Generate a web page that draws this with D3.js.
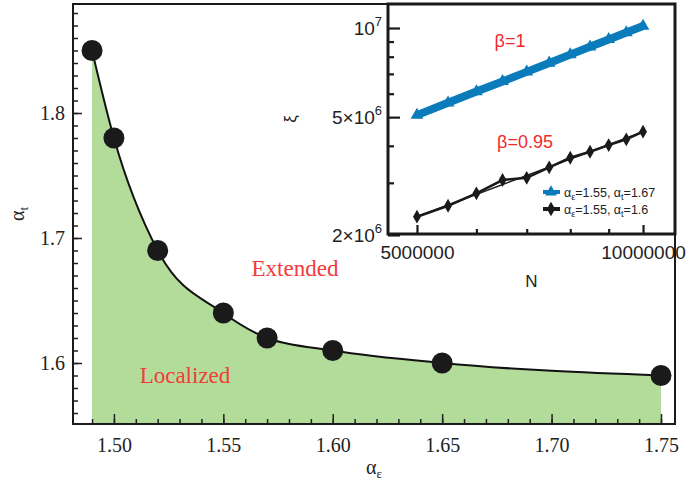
<!DOCTYPE html>
<html>
<head>
<meta charset="utf-8">
<script src="https://cdn.jsdelivr.net/npm/d3@7"></script>
<style>
  body { margin: 0; background: #fff; }
  svg { display: block; }
</style>
</head>
<body>
<div id="chart-area"></div>
<script>
// main panel data: phase boundary
const alphaE = [1.49, 1.50, 1.52, 1.55, 1.57, 1.60, 1.65, 1.75];
const alphaT = [1.85, 1.78, 1.69, 1.64, 1.62, 1.61, 1.60, 1.59];
const xMajor = [1.50, 1.55, 1.60, 1.65, 1.70, 1.75];
const yMajor = [1.6, 1.7, 1.8];

// inset data: xi vs N (log-log)
const sizesN = [5000000, 5500000, 6000000, 6500000, 7000000, 7500000, 8000000, 8500000, 9000000, 9500000, 10000000];
const xiExt = [5080000, 5590000, 6100000, 6600000, 7110000, 7620000, 8130000, 8640000, 9150000, 9650000, 10160000];
const xiLoc = [2305000, 2510000, 2765000, 3066000, 3120000, 3383000, 3646000, 3820000, 4024000, 4207000, 4464000];
const fitN = [5000000, 10000000];
const fitLoc = [2305000, 4464000];
const insetXTicks = [5000000, 10000000];
const insetXMinor = [6000000, 7000000, 8000000, 9000000];
const insetYTicks = [2000000, 5000000, 10000000];
const insetYTickLabels = [["2\u00d710", "6"], ["5\u00d710", "6"], ["10", "7"]];
const insetYMinor = [3000000, 4000000, 6000000, 7000000, 8000000, 9000000];

const width = 689, height = 485;
const serif = "'Liberation Serif', 'Times New Roman', serif";
const sans = "'Liberation Sans', Arial, sans-serif";

const svg = d3.select("#chart-area").append("svg")
	.attr("width", width)
	.attr("height", height);

// ---- main panel ----
const mLeft = 73, mRight = 675, mTop = 4, mBottom = 424;
const x = d3.scaleLinear().domain([1.4813, 1.7564]).range([mLeft, mRight]);
const y = d3.scaleLinear().domain([1.5512, 1.8872]).range([mBottom, mTop]);

const pts = alphaE.map((d, i) => [d, alphaT[i]]);

svg.append("path")
	.datum(pts)
	.attr("fill", "#b3dc9a")
	.attr("d", d3.area().x(d => x(d[0])).y0(mBottom).y1(d => y(d[1])).curve(d3.curveMonotoneX));

svg.append("path")
	.datum(pts)
	.attr("fill", "none")
	.attr("stroke", "#111")
	.attr("stroke-width", 2)
	.attr("d", d3.line().x(d => x(d[0])).y(d => y(d[1])).curve(d3.curveMonotoneX));

svg.selectAll("circle.pt")
	.data(pts)
	.enter()
	.append("circle")
	.attr("class", "pt")
	.attr("cx", d => x(d[0]))
	.attr("cy", d => y(d[1]))
	.attr("r", 10.5)
	.attr("fill", "#1a1a1a");

svg.append("text")
	.attr("x", 295).attr("y", 276)
	.attr("text-anchor", "middle")
	.attr("font-family", serif).attr("font-size", 23)
	.attr("fill", "#f23b3b")
	.text("Extended");

svg.append("text")
	.attr("x", 185).attr("y", 383)
	.attr("text-anchor", "middle")
	.attr("font-family", serif).attr("font-size", 23)
	.attr("fill", "#f23b3b")
	.text("Localized");

// axes (ticks pointing inward)
const xMinor = d3.range(149, 176).map(d => d / 100);
const yMinor = d3.range(156, 189).map(d => d / 100);

svg.append("g")
	.attr("transform", "translate(0," + mBottom + ")")
	.call(d3.axisBottom(x).tickValues(xMinor).tickSize(-5).tickFormat(""))
	.call(g => g.select(".domain").remove());

svg.append("g")
	.attr("transform", "translate(0," + mBottom + ")")
	.call(d3.axisBottom(x).tickValues(xMajor).tickSize(-10).tickPadding(14).tickFormat(d3.format(".2f")))
	.call(g => g.select(".domain").remove())
	.call(g => g.selectAll("text").attr("font-family", serif).attr("font-size", 20).attr("fill", "#222"));

svg.append("g")
	.attr("transform", "translate(" + mLeft + ",0)")
	.call(d3.axisLeft(y).tickValues(yMinor).tickSize(-5).tickFormat(""))
	.call(g => g.select(".domain").remove());

svg.append("g")
	.attr("transform", "translate(" + mLeft + ",0)")
	.call(d3.axisLeft(y).tickValues(yMajor).tickSize(-9).tickPadding(8).tickFormat(d3.format(".1f")))
	.call(g => g.select(".domain").remove())
	.call(g => g.selectAll("text").attr("font-family", serif).attr("font-size", 20).attr("fill", "#222"));

svg.selectAll(".tick line").attr("stroke", "#222").attr("stroke-width", 1.5);

// axis labels
const xl = svg.append("text")
	.attr("x", (mLeft + mRight) / 2).attr("y", 474)
	.attr("text-anchor", "middle")
	.attr("font-family", serif).attr("font-size", 20).attr("fill", "#222");
xl.append("tspan").text("\u03b1");
xl.append("tspan").attr("font-size", 13).attr("dy", 4).text("\u03b5");

const yl = svg.append("text")
	.attr("transform", "translate(24," + (mTop + mBottom) / 2 + ") rotate(-90)")
	.attr("text-anchor", "middle")
	.attr("font-family", serif).attr("font-size", 20).attr("fill", "#222");
yl.append("tspan").text("\u03b1");
yl.append("tspan").attr("font-size", 13).attr("dy", 4).text("t");

// ---- inset ----
const il = 388, ir = 675, it = 4, ib = 234;
const ix = d3.scaleLog().domain([4575000, 11030000]).range([il, ir]);
const iy = d3.scaleLog().domain([2015000, 12053000]).range([ib, it]);

svg.append("rect")
	.attr("x", il).attr("y", it)
	.attr("width", ir - il).attr("height", ib - it)
	.attr("fill", "#fff");

const inset = svg.append("g");

inset.append("g")
	.attr("transform", "translate(0," + ib + ")")
	.call(d3.axisBottom(ix).tickValues(insetXMinor).tickSize(-5).tickFormat(""))
	.call(g => g.select(".domain").remove());

inset.append("g")
	.attr("transform", "translate(0," + ib + ")")
	.call(d3.axisBottom(ix).tickValues(insetXTicks).tickSize(-9).tickPadding(12).tickFormat(d3.format("d")))
	.call(g => g.select(".domain").remove())
	.call(g => g.selectAll("text").attr("font-family", sans).attr("font-size", 19).attr("fill", "#222"));

inset.append("g")
	.attr("transform", "translate(" + il + ",0)")
	.call(d3.axisLeft(iy).tickValues(insetYMinor).tickSize(-6).tickFormat(""))
	.call(g => g.select(".domain").remove());

inset.append("g")
	.attr("transform", "translate(" + il + ",0)")
	.call(d3.axisLeft(iy).tickValues(insetYTicks).tickSize(-12).tickFormat(""))
	.call(g => g.select(".domain").remove());

inset.selectAll(".tick line").attr("stroke", "#1a1a1a").attr("stroke-width", 2.2);

// y tick labels with superscripts
insetYTicks.forEach((v, i) => {
	const t = inset.append("text")
		.attr("x", il - 6).attr("y", iy(v) + 7)
		.attr("text-anchor", "end")
		.attr("font-family", sans).attr("font-size", 19).attr("fill", "#222");
	t.append("tspan").text(insetYTickLabels[i][0]);
	t.append("tspan").attr("font-size", 13).attr("dy", -9).text(insetYTickLabels[i][1]);
});

// inset series
const extPts = sizesN.map((n, i) => [n, xiExt[i]]);
const locPts = sizesN.map((n, i) => [n, xiLoc[i]]);
const fitPts = fitN.map((n, i) => [n, fitLoc[i]]);
const iline = d3.line().x(d => ix(d[0])).y(d => iy(d[1]));

inset.append("path").datum(fitPts)
	.attr("fill", "none").attr("stroke", "#1a1a1a").attr("stroke-width", 1.5)
	.attr("d", iline);

inset.append("path").datum(locPts)
	.attr("fill", "none").attr("stroke", "#1a1a1a").attr("stroke-width", 2.5)
	.attr("d", iline);

inset.selectAll("path.dia").data(locPts).enter().append("path")
	.attr("class", "dia")
	.attr("transform", d => "translate(" + ix(d[0]) + "," + iy(d[1]) + ")")
	.attr("d", d3.symbol(d3.symbolDiamond, 55))
	.attr("fill", "#1a1a1a");

inset.append("path").datum(extPts)
	.attr("fill", "none").attr("stroke", "#0a7bbb").attr("stroke-width", 8)
	.attr("d", iline);

inset.selectAll("path.tri").data(extPts).enter().append("path")
	.attr("class", "tri")
	.attr("transform", d => "translate(" + ix(d[0]) + "," + iy(d[1]) + ")")
	.attr("d", d3.symbol(d3.symbolTriangle, 70))
	.attr("fill", "#0a7bbb");

inset.append("text")
	.attr("x", 510).attr("y", 47)
	.attr("text-anchor", "middle")
	.attr("font-family", sans).attr("font-size", 18).attr("fill", "#f22a2a")
	.text("\u03b2=1");

inset.append("text")
	.attr("x", 525).attr("y", 148)
	.attr("text-anchor", "middle")
	.attr("font-family", sans).attr("font-size", 18).attr("fill", "#f22a2a")
	.text("\u03b2=0.95");

// legend
const legend = [
	{ color: "#0a7bbb", sym: d3.symbolTriangle, a: "1.55", b: "1.67", y: 192 },
	{ color: "#1a1a1a", sym: d3.symbolDiamond, a: "1.55", b: "1.6", y: 209 }
];
legend.forEach(l => {
	inset.append("line")
		.attr("x1", 543).attr("x2", 560).attr("y1", l.y).attr("y2", l.y)
		.attr("stroke", l.color).attr("stroke-width", 4);
	inset.append("path")
		.attr("transform", "translate(551," + l.y + ")")
		.attr("d", d3.symbol(l.sym, 60))
		.attr("fill", l.color);
	const t = inset.append("text")
		.attr("x", 564).attr("y", l.y + 4.5)
		.attr("font-family", sans).attr("font-size", 12.5).attr("fill", "#222");
	t.append("tspan").text("\u03b1");
	t.append("tspan").attr("font-size", 9).attr("dy", 3).text("\u03b5");
	t.append("tspan").attr("dy", -3).text("=" + l.a + ", \u03b1");
	t.append("tspan").attr("font-size", 9).attr("dy", 3).text("t");
	t.append("tspan").attr("dy", -3).text("=" + l.b);
});

// inset axis labels
inset.append("text")
	.attr("x", (il + ir) / 2).attr("y", 287)
	.attr("text-anchor", "middle")
	.attr("font-family", sans).attr("font-size", 17).attr("fill", "#222")
	.text("N");

inset.append("text")
	.attr("transform", "translate(296," + (it + ib) / 2 + ") rotate(-90)")
	.attr("text-anchor", "middle")
	.attr("font-family", sans).attr("font-size", 17).attr("fill", "#222")
	.text("\u03be");

inset.append("rect")
	.attr("x", il).attr("y", it)
	.attr("width", ir - il).attr("height", ib - it)
	.attr("fill", "none").attr("stroke", "#1a1a1a").attr("stroke-width", 3);

// main frame on top
svg.append("rect")
	.attr("x", mLeft).attr("y", mTop)
	.attr("width", mRight - mLeft).attr("height", mBottom - mTop)
	.attr("fill", "none").attr("stroke", "#1a1a1a").attr("stroke-width", 2);
</script>
</body>
</html>
